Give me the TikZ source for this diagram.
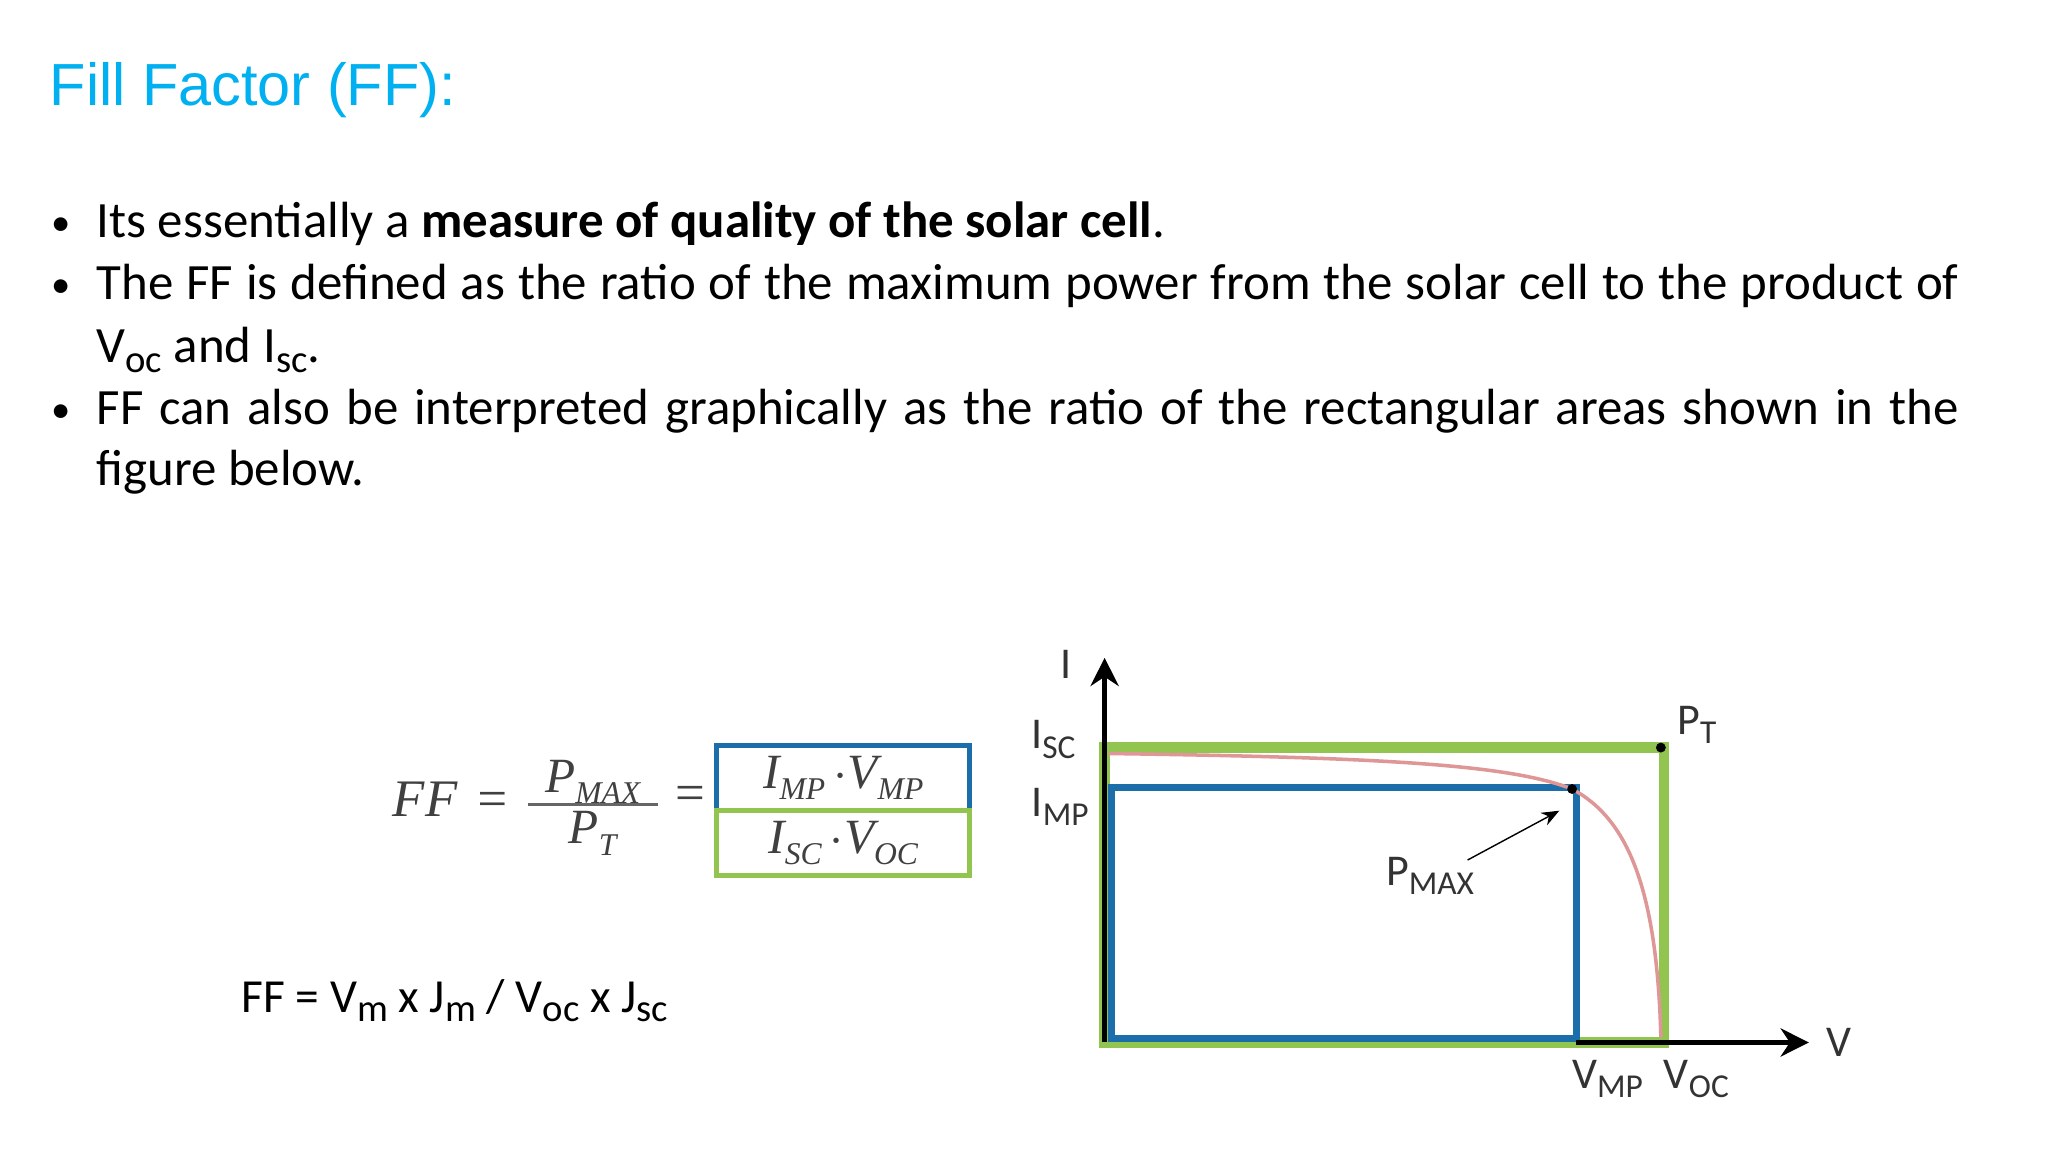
\documentclass[tikz,border=0pt]{standalone}
\usepackage{fontspec}
\setmainfont{Carlito}
\newfontfamily\arialf{Liberation Sans}
\newfontfamily\tms{Liberation Serif}
\usetikzlibrary{arrows.meta}
\definecolor{titlecyan}{RGB}{0,176,240}
\definecolor{grn}{RGB}{146,196,80}
\definecolor{blu}{RGB}{28,110,170}
\definecolor{pinkc}{RGB}{222,150,150}
\newcommand\lsub[1]{\raisebox{-0.45ex}{\fontsize{9.5}{9.5}\selectfont #1}}
\newcommand\bsub[1]{\raisebox{-0.4ex}{\fontsize{11}{11}\selectfont #1}}
\newcommand\msub[1]{\raisebox{-0.5ex}{\fontsize{9}{9}\selectfont #1}}
\begin{document}
\begin{tikzpicture}[x=0.01cm,y=-0.01cm,
  body/.style={anchor=base west,inner sep=0pt,font=\fontsize{14.47}{17}\selectfont},
  lab/.style={inner sep=0pt,font=\fontsize{12.5}{12.5}\selectfont,text=black!80},
  mth/.style={inner sep=0pt,font=\tms\itshape\fontsize{14}{14}\selectfont,text=black!75}]
\fill[white] (0,0) rectangle (2048,1152);
\useasboundingbox (0,0) rectangle (2048,1152);
\node[anchor=base west,inner sep=0pt,text=titlecyan,font=\arialf\fontsize{16.9}{20}\selectfont] (title) at (49,106) {Fill Factor (FF):};
% bullets
\foreach \y/\n in {238/b1,300/b2,425/b3}{\node[body,font=\fontsize{11}{11}\selectfont] (\n) at (51,\y-2) {•};}
\node[body] (l1) at (96,238) {Its essentially a \textbf{measure of quality of the solar cell}.};
\node[body] (l2) at (96,300) {\makebox[18.61cm][s]{The FF is defined as the ratio of the maximum power from the solar cell to the product of}};
\node[body] (l3) at (96,363) {V\bsub{oc} and I\bsub{sc}.};
\node[body] (l4) at (96,425) {\makebox[18.61cm][s]{FF can also be interpreted graphically as the ratio of the rectangular areas shown in the}};
\node[body] (l5) at (96,486) {figure below.};
\begin{scope}[x=0.00986cm,y=-0.00986cm]
% formula
\node[mth,font=\tms\itshape\fontsize{15}{15}\selectfont] (ff) at (458,810) {FF\,\,=};
\node[mth] (pmaxf) at (601,793) {P\msub{MAX}};
\node[mth] (ptf) at (601,845) {P\msub{T}};
\draw[black!60,line width=0.8pt] (535,816) coordinate (fl) -- (667,816) coordinate (fr);
\node[mth,font=\tms\fontsize{15}{15}\selectfont] (eq2) at (700,810) {=};
\node[draw=blu,line width=1.5pt,minimum width=2.53cm,minimum height=0.65cm,mth,anchor=north west] (bb) at (724,753) {I\msub{MP}\,$\cdot$V\msub{MP}};
\node[draw=grn,line width=1.5pt,minimum width=2.53cm,minimum height=0.65cm,mth,anchor=north west] (gb) at (724,819) {I\msub{SC}\,$\cdot$V\msub{OC}};
\node[body,font=\fontsize{13.5}{15}\selectfont] (ff2) at (244,1027) {FF = V\bsub{m} x J\bsub{m} / V\bsub{oc} x J\bsub{sc}};
% graph
\coordinate (O) at (1120,1057);
\coordinate (Itop) at (1120,667);
\coordinate (Vend) at (1834,1057);
\draw[grn,line width=3pt] (1120,758) rectangle (1687,1057);
\draw[blu,line width=2pt] (1127,798) rectangle (1598,1053);
\draw[line width=1.4pt,-{Stealth[length=8pt,width=8pt]}] (O) -- (Itop);
\draw[line width=1.4pt,-{Stealth[length=8pt,width=8pt]}] (1598,1057) -- (Vend);
\draw[pinkc,line width=1pt] (1124,764) .. controls (1400,768) and (1530,775) .. (1594,800) .. controls (1650,830) and (1680,900) .. (1684,1052);
\fill (1684,758) circle (5) coordinate (pt);
\fill (1594,800) circle (5) coordinate (pm);
\node[lab] (Il) at (1081,674) {I};
\node[lab] (Vl) at (1865,1057) {V};
\node[lab,anchor=west] (ptl) at (1700,735) {P\lsub{T}};
\node[lab] (pml) at (1450,888) {P\lsub{MAX}};
\draw[-{Stealth[length=5pt,width=4pt]}] (1488,872) -- (1581,822);
\node[lab] (iscl) at (1068,750) {I\lsub{SC}};
\node[lab] (impl) at (1075,818) {I\lsub{MP}};
\node[lab] (vmpl) at (1630,1094) {V\lsub{MP}};
\node[lab] (vocl) at (1720,1094) {V\lsub{OC}};
\end{scope}
\end{tikzpicture}
\end{document}
